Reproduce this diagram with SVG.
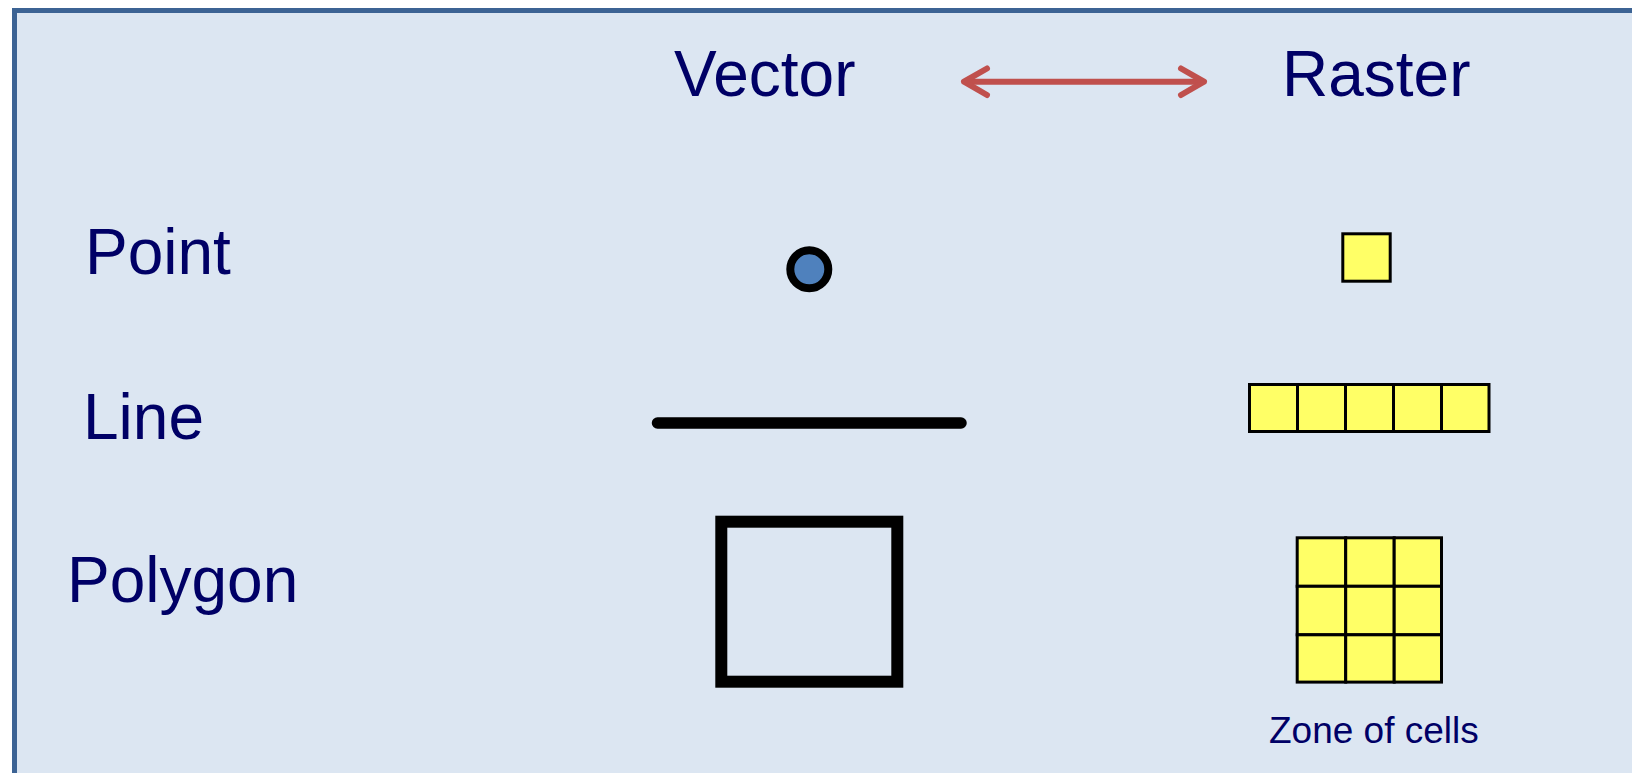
<svg xmlns="http://www.w3.org/2000/svg" width="1632" height="773" viewBox="0 0 1632 773">
<defs>
<style>
.lbl{font-family:"Liberation Sans",Arial,sans-serif;font-size:64px;fill:#000066}
.small{font-family:"Liberation Sans",Arial,sans-serif;font-size:37px;fill:#000066}
.cell{fill:#ffff66;stroke:#000;stroke-width:3}
.arr{fill:none;stroke:#c0504d;stroke-width:6;stroke-linecap:round;stroke-linejoin:round}
</style>
</defs>
<rect width="1632" height="773" fill="#ffffff"/>
<rect id="frame" x="14.5" y="10.5" width="1640" height="790" fill="#dce6f2" stroke="#3c6394" stroke-width="5"/>
<g id="vector-title"><text class="lbl" x="674" y="96">Vector</text></g>
<g id="raster-title"><text class="lbl" x="1282" y="96">Raster</text></g>
<g id="connectors">
<line class="arr" x1="966" y1="81.7" x2="1202" y2="81.7"/>
<polyline class="arr" points="987,68.5 964,81.7 987,95"/>
<polyline class="arr" points="1181,68.5 1204,81.7 1181,95"/>
</g>
<g id="point-label"><text class="lbl" x="85" y="274">Point</text></g>
<g id="line-label"><text class="lbl" x="83" y="439">Line</text></g>
<g id="polygon-label"><text class="lbl" x="67" y="602">Polygon</text></g>
<g id="vector-point"><circle cx="809.3" cy="269.3" r="19" fill="#4f81bd" stroke="#000" stroke-width="8"/></g>
<g id="vector-line"><line x1="657.5" y1="423" x2="961" y2="423" stroke="#000" stroke-width="11.5" stroke-linecap="round"/></g>
<g id="vector-polygon"><rect x="721.3" y="521.7" width="176" height="160" fill="none" stroke="#000" stroke-width="12"/></g>
<g id="raster-point"><rect class="cell" x="1342.8" y="233.8" width="47.4" height="47.4"/></g>
<g id="raster-line">
<rect class="cell" x="1249.5" y="384.5" width="48" height="47"/>
<rect class="cell" x="1297.5" y="384.5" width="48" height="47"/>
<rect class="cell" x="1345.5" y="384.5" width="48" height="47"/>
<rect class="cell" x="1393.5" y="384.5" width="48" height="47"/>
<rect class="cell" x="1441.5" y="384.5" width="47.5" height="47"/>
</g>
<g id="raster-polygon">
<rect class="cell" x="1297.2" y="537.8" width="48.5" height="48.5"/>
<rect class="cell" x="1345.7" y="537.8" width="48.5" height="48.5"/>
<rect class="cell" x="1394.2" y="537.8" width="47.3" height="48.5"/>
<rect class="cell" x="1297.2" y="586.3" width="48.5" height="48.5"/>
<rect class="cell" x="1345.7" y="586.3" width="48.5" height="48.5"/>
<rect class="cell" x="1394.2" y="586.3" width="47.3" height="48.5"/>
<rect class="cell" x="1297.2" y="634.8" width="48.5" height="47.3"/>
<rect class="cell" x="1345.7" y="634.8" width="48.5" height="47.3"/>
<rect class="cell" x="1394.2" y="634.8" width="47.3" height="47.3"/>
</g>
<g id="zone-label"><text class="small" x="1269" y="743">Zone of cells</text></g>
</svg>
